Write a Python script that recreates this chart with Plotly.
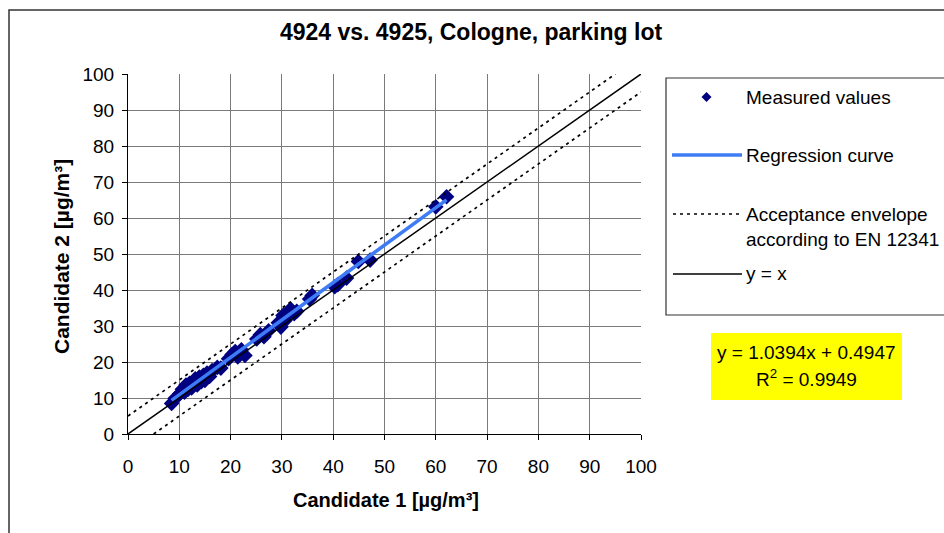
import plotly.graph_objects as go

# ---------------- data ----------------
cand1 = [8.5, 9.2, 10.1, 10.6, 11.0, 11.3, 11.7, 12.0, 12.4, 12.8, 13.1, 13.5, 13.9, 14.3,
         14.7, 15.0, 15.4, 15.9, 16.4, 17.4, 18.1, 19.6, 20.3, 20.9, 21.4, 22.1, 22.8, 25.1,
         25.8, 26.5, 27.4, 29.3, 29.8, 30.2, 30.6, 31.1, 31.7, 32.4, 32.9, 35.4, 35.9, 40.3,
         40.9, 42.6, 44.9, 47.2, 60.0, 62.1]
cand2 = [8.5, 9.9, 11.2, 12.4, 11.6, 13.6, 12.4, 14.1, 12.8, 14.6, 15.3, 13.6, 15.8, 14.5,
         16.3, 14.9, 16.9, 16.0, 17.6, 18.5, 18.3, 20.9, 22.1, 22.9, 21.4, 23.4, 21.8, 26.4,
         27.6, 27.0, 28.7, 30.9, 29.7, 32.9, 31.5, 33.3, 34.7, 33.4, 34.1, 37.5, 38.5, 40.9,
         41.5, 43.3, 47.9, 48.3, 63.1, 65.9]
slope = 1.0394
intercept = 0.4947
r2 = 0.9949
envelope_offset = 5.0          # acceptance envelope y = x +/- 5
axis_range = [0, 100]

title = "4924 vs. 4925, Cologne, parking lot"
x_title = "Candidate 1 [µg/m³]"
y_title = "Candidate 2 [µg/m³]"
legend_names = ["Measured values", "Regression curve",
                "Acceptance envelope<br>according to EN 12341", "y = x"]

# ---------------- layout geometry ----------------
W, H = 944, 533
L, R, T, B = 128, 641, 74, 434          # plot area in pixels


def px(P):
    return (P - L) / (R - L)


def py(Q):
    return (B - Q) / (B - T)


FONT = "Liberation Sans, Arial, sans-serif"

fig = go.Figure()

xmin, xmax = min(cand1), max(cand1)
fig.add_trace(go.Scatter(x=cand1, y=cand2, mode="markers", name=legend_names[0],
                         marker=dict(symbol="diamond", size=12, color="#000080",
                                     line=dict(width=0))))
fig.add_trace(go.Scatter(x=[xmin, xmax], y=[slope * xmin + intercept, slope * xmax + intercept],
                         mode="lines", name=legend_names[1],
                         line=dict(color="#3d7cf5", width=3.6)))
fig.add_trace(go.Scatter(x=[0, axis_range[1] - envelope_offset],
                         y=[envelope_offset, axis_range[1]], mode="lines", name="env_up",
                         line=dict(color="black", width=1.7, dash="3px,4px")))
fig.add_trace(go.Scatter(x=[envelope_offset, axis_range[1]],
                         y=[0, axis_range[1] - envelope_offset], mode="lines", name="env_lo",
                         line=dict(color="black", width=1.7, dash="3px,4px")))
fig.add_trace(go.Scatter(x=axis_range, y=axis_range, mode="lines", name=legend_names[3],
                         line=dict(color="black", width=1.5)))

axis_common = dict(range=axis_range, dtick=10, showgrid=True, gridcolor="#7a7a7a",
                   gridwidth=1, zeroline=False, showline=True, linecolor="black",
                   linewidth=1, ticks="outside", ticklen=5, tickcolor="black",
                   tickfont=dict(family=FONT, size=19, color="black"), fixedrange=True)

fig.update_layout(
    width=W, height=H, showlegend=False,
    margin=dict(l=L, r=W - R, t=T, b=H - B, pad=0),
    paper_bgcolor="white", plot_bgcolor="white",
    font=dict(family=FONT, color="black"),
    title=dict(text="<b>" + title + "</b>", x=471 / W, xref="container", xanchor="center",
               y=1 - 32 / H, yref="container", yanchor="middle",
               font=dict(family=FONT, size=23, color="black")),
    xaxis=dict(**axis_common, ticklabelstandoff=10),
    yaxis=dict(**axis_common, ticklabelstandoff=4),
)

shapes = []
annotations = []
# outer chart frame
shapes.append(dict(type="rect", xref="paper", yref="paper", x0=px(9), x1=px(960),
                   y0=py(545), y1=py(10), line=dict(color="#333333", width=1.5),
                   fillcolor="rgba(0,0,0,0)", layer="below"))
# legend box
shapes.append(dict(type="rect", xref="paper", yref="paper", x0=px(666), x1=px(960),
                   y0=py(315), y1=py(78), line=dict(color="#333333", width=1.2),
                   fillcolor="white"))
# legend symbols
cx, cy, rx, ry = 706.5, 97, 5.0, 5.0
shapes.append(dict(type="path", xref="paper", yref="paper",
                   path=f"M {px(cx - rx)},{py(cy)} L {px(cx)},{py(cy - ry)} L {px(cx + rx)},{py(cy)} L {px(cx)},{py(cy + ry)} Z",
                   fillcolor="#000080", line=dict(width=0)))
shapes.append(dict(type="line", xref="paper", yref="paper", x0=px(672), x1=px(742),
                   y0=py(155), y1=py(155), line=dict(color="#3d7cf5", width=3.4)))
shapes.append(dict(type="line", xref="paper", yref="paper", x0=px(673), x1=px(742),
                   y0=py(214), y1=py(214), line=dict(color="black", width=1.6, dash="3px,4px")))
shapes.append(dict(type="line", xref="paper", yref="paper", x0=px(673), x1=px(742),
                   y0=py(274), y1=py(274), line=dict(color="black", width=1.4)))
legend_y = [97, 155, 227, 273]
for name, yy in zip(legend_names, legend_y):
    annotations.append(dict(text=name, xref="paper", yref="paper", x=px(744), y=py(yy),
                            xanchor="left", yanchor="middle", showarrow=False, align="left",
                            font=dict(family=FONT, size=19, color="black")))
# equation box
shapes.append(dict(type="rect", xref="paper", yref="paper", x0=px(711), x1=px(902),
                   y0=py(400), y1=py(333), line=dict(width=0), fillcolor="#ffff00"))
annotations.append(dict(text=f"y = {slope:.4f}x + {intercept:.4f}", xref="paper", yref="paper",
                        x=px(806), y=py(352), xanchor="center", yanchor="middle",
                        showarrow=False, font=dict(family=FONT, size=19, color="black")))
annotations.append(dict(text=f"R<sup>2</sup> = {r2:.4f}", xref="paper", yref="paper",
                        x=px(806), y=py(378), xanchor="center", yanchor="middle",
                        showarrow=False, font=dict(family=FONT, size=19, color="black")))
# axis titles
annotations.append(dict(text="<b>" + x_title + "</b>", xref="paper", yref="paper",
                        x=px(386), y=py(500), xanchor="center", yanchor="middle",
                        showarrow=False, font=dict(family=FONT, size=20, color="black")))
annotations.append(dict(text="<b>" + y_title + "</b>", xref="paper", yref="paper",
                        x=px(61), y=py(257), xanchor="center", yanchor="middle", textangle=-90,
                        showarrow=False, font=dict(family=FONT, size=21, color="black")))

fig.update_layout(shapes=shapes, annotations=annotations)
fig.write_html("out.html")
